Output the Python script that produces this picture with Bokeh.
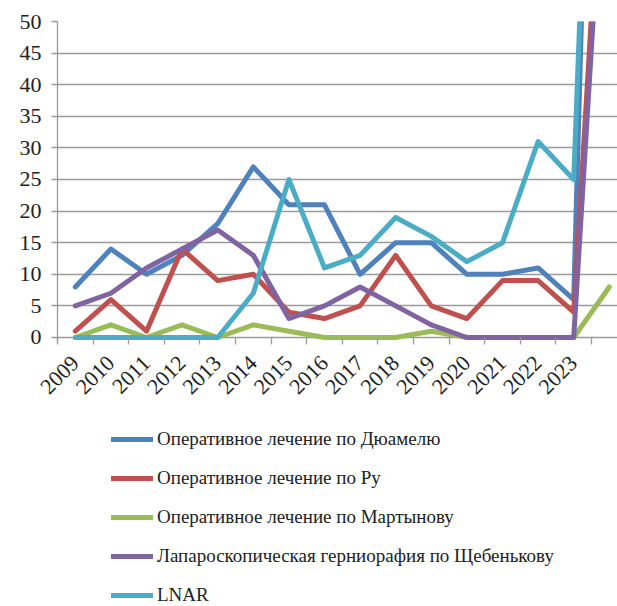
import numpy as np
from bokeh.plotting import figure
from bokeh.layouts import column
from bokeh.models import (Range1d, FixedTicker, Legend, LegendItem)
from bokeh.embed import file_html
from bokeh.resources import INLINE

# Category axis: years plus a final unlabeled column with the totals
categories = ["2009", "2010", "2011", "2012", "2013", "2014", "2015", "2016",
              "2017", "2018", "2019", "2020", "2021", "2022", "2023", ""]

duhamel = [8, 14, 10, 13, 18, 27, 21, 21, 10, 15, 15, 10, 10, 11, 6, 209]
rehbein = [1, 6, 1, 14, 9, 10, 4, 3, 5, 13, 5, 3, 9, 9, 4, 98]
martynov = [0, 2, 0, 2, 0, 2, 1, 0, 0, 0, 1, 0, 0, 0, 0, 8]
laparoscopic = [5, 7, 11, 14, 17, 13, 3, 5, 8, 5, 2, 0, 0, 0, 0, 92]
lnar = [0, 0, 0, 0, 0, 7, 25, 11, 13, 19, 16, 12, 15, 31, 25, 174]

series_names = [
    "Оперативное лечение по Дюамелю",
    "Оперативное лечение по Ру",
    "Оперативное лечение по Мартынову",
    "Лапароскопическая герниорафия по Щебенькову",
    "LNAR",
]
series_values = [duhamel, rehbein, martynov, laparoscopic, lnar]
series_colors = ["#4F81BD", "#C0504D", "#9BBB59", "#8064A2", "#4BACC6"]

y_ticks = list(range(0, 51, 5))

FONT = "Liberation Serif"
GRID = "#9a9a9a"
LINE_W = 5

n = len(categories)
centers = np.arange(n) + 0.5          # category centres
bounds = np.arange(n + 1)             # category boundaries (tick marks)

p = figure(width=617, height=420, output_backend="svg", toolbar_location=None,
           x_range=Range1d(0, 560 / 35.6), y_range=Range1d(-0.475, 50),
           min_border_left=57, min_border_right=0,
           min_border_top=21, min_border_bottom=80)
p.outline_line_color = None
p.background_fill_color = "white"
p.border_fill_color = "white"

# y axis
p.yaxis.ticker = FixedTicker(ticks=y_ticks)
p.yaxis.axis_line_color = GRID
p.yaxis.axis_line_width = 1.3
p.yaxis.major_tick_line_color = GRID
p.yaxis.major_tick_line_width = 1.3
p.yaxis.major_tick_out = 6
p.yaxis.major_tick_in = 0
p.yaxis.minor_tick_line_color = None
p.yaxis.major_label_standoff = 10
p.yaxis.major_label_text_font = FONT
p.yaxis.major_label_text_font_size = "22px"
p.yaxis.major_label_text_color = "#222222"

# x axis: labels at category centres, tick marks at boundaries
p.xaxis.ticker = FixedTicker(ticks=list(centers), minor_ticks=list(bounds))
p.xaxis.major_label_overrides = {float(c): lab for c, lab in zip(centers, categories)}
p.xaxis.major_tick_line_color = None
p.xaxis.axis_line_color = None
p.xaxis.minor_tick_line_color = GRID
p.xaxis.minor_tick_line_width = 1.3
p.xaxis.minor_tick_in = 3
p.xaxis.minor_tick_out = 4
p.xaxis.major_label_orientation = np.pi / 4
p.xaxis.major_label_standoff = 13
p.xaxis.major_label_text_font = FONT
p.xaxis.major_label_text_font_size = "22px"
p.xaxis.major_label_text_color = "#222222"

p.xgrid.grid_line_color = None
p.ygrid.ticker = FixedTicker(ticks=y_ticks)
p.ygrid.grid_line_color = GRID
p.ygrid.grid_line_width = 1.3

for vals, col in zip(series_values, series_colors):
    p.line(centers, vals, line_color=col, line_width=LINE_W,
           line_join="round", line_cap="round")

# Legend panel underneath the chart (swatch-only renderers, nothing plotted)
lg = figure(width=617, height=186, output_backend="svg", toolbar_location=None,
            x_range=Range1d(0, 1), y_range=Range1d(0, 1),
            min_border_left=0, min_border_right=0,
            min_border_top=0, min_border_bottom=0)
lg.axis.visible = False
lg.grid.visible = False
lg.outline_line_color = None

items = []
for name, col in zip(series_names, series_colors):
    r = lg.line([np.nan], [np.nan], line_color=col, line_width=LINE_W,
                line_cap="round")
    items.append(LegendItem(label=name, renderers=[r]))

legend = Legend(items=items, location=(54, 0),
                glyph_width=42, glyph_height=20, label_height=20, spacing=17,
                padding=0, margin=0, label_standoff=4,
                border_line_alpha=0, background_fill_alpha=0,
                label_text_font=FONT, label_text_font_size="19px",
                label_text_color="#222222")
lg.add_layout(legend, "center")

layout = column(p, lg, spacing=0)
open("out.html", "w").write(file_html(layout, INLINE))
